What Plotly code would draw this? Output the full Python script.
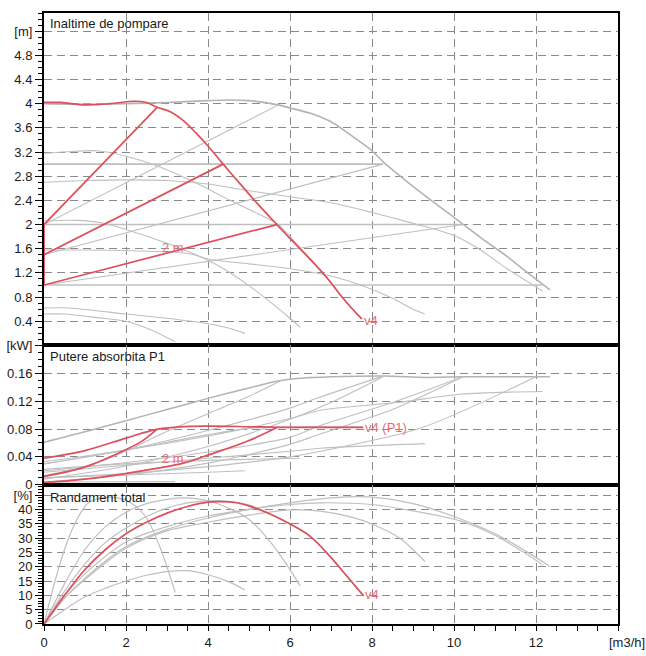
import plotly.graph_objects as go

# ---------------- data ----------------
# Flow values [m3/h] and pump head [m] - top panel
Q_a = [0, 1, 2, 3, 4, 4.5, 5, 5.7, 6, 6.5, 7, 7.5, 8, 8.3, 8.6, 9, 9.5, 10, 10.23, 10.7, 11.3, 11.8, 12.34]
H_a = [4.0, 3.99, 4.0, 4.02, 4.05, 4.06, 4.05, 3.98, 3.93, 3.84, 3.70, 3.47, 3.22, 3.02, 2.85, 2.63, 2.37, 2.12, 2.0, 1.76, 1.47, 1.2, 0.92]
Q_b = [0, 0.7, 1.3, 2, 2.8, 3.7, 4.4, 5.03, 5.72, 6.2, 6.57, 6.98, 7.27, 7.5, 7.75]
H_b = [3.18, 3.21, 3.22, 3.13, 2.96, 2.69, 2.45, 2.24, 2.0, 1.65, 1.38, 1.06, 0.79, 0.62, 0.44]
Q_c = [0, 1, 2, 3, 4, 5, 6, 7, 8, 9, 10, 10.6, 11.3, 12.16]
H_c = [2.70, 2.73, 2.74, 2.73, 2.67, 2.56, 2.46, 2.36, 2.2, 2.02, 1.82, 1.6, 1.27, 0.90]
Q_d = [0, 0.8, 1.4, 2, 3, 4, 4.5, 5, 5.5, 6, 6.25]
H_d = [2.06, 2.07, 2.03, 1.92, 1.69, 1.41, 1.22, 0.99, 0.73, 0.45, 0.30]
Q_e = [0, 1, 2, 3, 3.6, 4, 5, 6, 7, 7.8, 8.5, 9.0, 9.29]
H_e = [1.58, 1.58, 1.57, 1.55, 1.51, 1.43, 1.35, 1.27, 1.15, 0.98, 0.78, 0.6, 0.52]
Q_f = [0, 0.6, 2, 3, 4, 4.5, 4.9]
H_f = [0.62, 0.62, 0.52, 0.45, 0.36, 0.29, 0.20]
Q_g = [0, 0.5, 1.3, 2, 2.6, 3.2]
H_g = [0.52, 0.52, 0.46, 0.40, 0.26, 0.06]
# gray control lines (proportional / constant)
Q_prop_gray = [[0, 5.72], [0, 8.27], [0, 10.22]]
H_prop_gray = [[2.0, 3.98], [1.5, 3.0], [1.0, 2.0]]
Q_const_gray = [[0, 8.27], [0, 10.22], [0, 12.15]]
H_const_gray = [[3.0, 3.0], [2.0, 2.0], [1.0, 1.0]]
# red pump: v4 curve and control lines
Q_v4 = [0, 0.4, 1.0, 1.6, 2.2, 2.5, 2.76, 3.1, 3.4, 3.7, 4.0, 4.37, 4.8, 5.2, 5.68, 6.1, 6.5, 6.9, 7.2, 7.5, 7.75]
H_v4 = [4.02, 4.02, 3.98, 4.0, 4.04, 4.02, 3.94, 3.86, 3.72, 3.52, 3.30, 3.0, 2.66, 2.35, 2.0, 1.70, 1.42, 1.12, 0.86, 0.62, 0.44]
Q_prop_red = [[0, 2.76], [0, 4.37], [0, 5.68], [0, 0]]
H_prop_red = [[2.0, 3.94], [1.5, 3.0], [1.0, 2.0], [1.0, 2.0]]

# Power P1 [kW] - middle panel
QP_v4 = [0, 1, 2, 2.75, 3.3, 3.97, 5, 5.68, 7.79]
P_v4 = [0.038, 0.049, 0.067, 0.0795, 0.083, 0.0842, 0.0833, 0.0825, 0.0825]
QP_l1 = [0, 0.97, 1.98, 2.4, 2.75]
P_l1 = [0.012, 0.025, 0.050, 0.063, 0.0795]
QP_l3 = [0, 1, 1.98, 3.4, 3.97, 4.94, 5.68]
P_l3 = [0.003, 0.008, 0.016, 0.031, 0.042, 0.062, 0.0823]
QP_gray = [
    [0, 1, 2, 3, 4, 5, 5.7, 6.5, 7, 8.3, 9.3, 10.2, 11, 12.34],
    [0, 1, 2, 2.75, 4, 5, 5.8],
    [0, 2, 4, 6, 6.74, 8.27],
    [0, 2, 4, 6, 7, 8.27],
    [0, 2, 4, 6, 6.74, 8.5, 10.22],
    [0, 2, 4, 6, 6.74, 8.5, 10.22],
    [0, 2, 4, 6, 6.74, 9.17, 12.0],
    [0, 2, 4, 6, 6.74, 8.61, 10.15, 12.16],
    [0, 2, 4, 6, 6.74, 9.29],
    [0, 2, 4, 6.24],
    [0, 2, 4, 4.9],
    [0, 3.2],
    [0, 2, 4, 5, 5.72, 7.75],
]
P_gray = [
    [0.061, 0.076, 0.092, 0.108, 0.124, 0.139, 0.149, 0.154, 0.155, 0.156, 0.154, 0.155, 0.155, 0.155],
    [0.013, 0.026, 0.048, 0.070, 0.102, 0.127, 0.150],
    [0.030, 0.050, 0.078, 0.110, 0.126, 0.156],
    [0.008, 0.027, 0.055, 0.094, 0.118, 0.155],
    [0.020, 0.032, 0.047, 0.068, 0.085, 0.118, 0.155],
    [0.004, 0.014, 0.031, 0.058, 0.073, 0.108, 0.155],
    [0.010, 0.016, 0.026, 0.040, 0.048, 0.081, 0.155],
    [0.033, 0.050, 0.070, 0.095, 0.107, 0.118, 0.130, 0.134],
    [0.018, 0.028, 0.038, 0.048, 0.0525, 0.059],
    [0.022, 0.030, 0.035, 0.038],
    [0.010, 0.014, 0.018, 0.020],
    [0.004, 0.0045],
    [0.030, 0.050, 0.072, 0.081, 0.083, 0.083],
]

# Total efficiency [%] - bottom panel
QE_v4 = [0, 0.25, 0.5, 1, 1.5, 2, 2.5, 3, 3.5, 4, 4.3, 4.7, 5, 5.5, 6, 6.5, 6.98, 7.4, 7.79]
E_v4 = [0, 5, 10, 19, 26, 31.5, 35.5, 38.7, 41, 42.5, 42.7, 42.3, 41.2, 38.5, 34.9, 30.5, 23.5, 16.5, 9.9]
QE_gray = [
    [0, 0.5, 1, 2, 3, 4, 5, 6, 7, 8, 9, 10, 11, 11.8, 12.34],
    [0, 0.5, 1, 1.5, 2, 2.5, 3, 3.5, 4, 4.5, 5, 5.5, 6, 6.5, 6.98, 7.4, 7.75],
    [0, 0.5, 1, 2, 3, 4, 5, 6, 6.74, 8, 9, 10.15, 11, 11.7, 12.16],
    [0, 0.5, 1, 1.5, 2, 2.5, 3, 3.5, 4, 4.5, 5, 5.5, 6, 6.25],
    [0, 0.5, 1, 2, 3, 4, 5, 6, 6.74, 7.5, 8, 8.69, 9.29],
    [0, 0.5, 1, 1.5, 2, 2.5, 3, 3.5, 4, 4.5, 4.9],
    [0, 0.25, 0.5, 0.75, 1.06, 1.4, 1.8, 2.2, 2.5, 2.84, 3.2],
]
E_gray = [
    [0, 9, 16, 27, 33, 37, 40, 42.3, 44, 44.3, 42, 37.5, 31.5, 25, 20.1],
    [0, 11.5, 21, 28.5, 33.5, 37.5, 40.5, 42.3, 43, 42.8, 41.5, 38.5, 35, 30.5, 23.5, 16.5, 10.5],
    [0, 10, 17.5, 28.6, 34, 37.7, 40, 41.7, 42.3, 41.7, 39.5, 36, 31, 25, 20.7],
    [0, 14, 26, 34, 39, 42, 43.5, 44, 43, 40.5, 36.5, 29, 19, 13.3],
    [0, 9, 15.5, 26.4, 32.5, 35.5, 38, 39.8, 39.4, 37.3, 34.9, 29.8, 21.8],
    [0, 5, 9.5, 12.5, 15, 17, 18.3, 18.6, 17.2, 14.8, 11.9],
    [0, 14, 26, 35, 42, 44, 44, 41.5, 37, 26.4, 11],
]

x_ticks = [0, 2, 4, 6, 8, 10, 12, 14]
x_ticktext = ["0", "2", "4", "6", "8", "10", "12", ""]
h_ticks = [0.4, 0.8, 1.2, 1.6, 2, 2.4, 2.8, 3.2, 3.6, 4, 4.4, 4.8, 5.2]
h_ticktext = ["0.4", "0.8", "1.2", "1.6", "2", "2.4", "2.8", "3.2", "3.6", "4", "4.4", "4.8", "[m]"]
p_ticks = [0, 0.04, 0.08, 0.12, 0.16, 0.2]
p_ticktext = ["0", "0.04", "0.08", "0.12", "0.16", "[kW]"]
e_ticks = [0, 5, 10, 15, 20, 25, 30, 35, 40, 45]
e_ticktext = ["0", "5", "10", "15", "20", "25", "30", "35", "40", "[%]"]

# ---------------- figure ----------------
RED = "#de4f5b"
RED_TXT = "#e66c75"
GRAY = "#bfbfbf"
GRID = "#8a8a8a"
FONT = "Liberation Sans, Arial, Helvetica, sans-serif"

fig = go.Figure()


def line(x, y, ax, color, width, shape="linear", smoothing=0.8):
    xa = {"1": "x", "2": "x2", "3": "x3"}[ax]
    ya = {"1": "y", "2": "y2", "3": "y3"}[ax]
    fig.add_trace(go.Scatter(
        x=x, y=y, xaxis=xa, yaxis=ya, mode="lines",
        line=dict(color=color, width=width, shape=shape, smoothing=smoothing),
        hoverinfo="skip", showlegend=False))


# top panel: gray first
line(Q_a, H_a, "1", "#b3b3b3", 1.6, "spline")
for q, h in [(Q_b, H_b), (Q_c, H_c), (Q_d, H_d), (Q_e, H_e), (Q_f, H_f), (Q_g, H_g)]:
    line(q, h, "1", GRAY, 1.1, "spline")
for q, h in zip(Q_prop_gray, H_prop_gray):
    line(q, h, "1", GRAY, 1.1)
for q, h in zip(Q_const_gray, H_const_gray):
    line(q, h, "1", GRAY, 1.6)
line(Q_v4, H_v4, "1", RED, 1.7, "spline", 1.0)
for q, h in zip(Q_prop_red, H_prop_red):
    line(q, h, "1", RED, 1.7)

# middle panel
for i, (q, p) in enumerate(zip(QP_gray, P_gray)):
    line(q, p, "2", "#b3b3b3" if i == 0 else GRAY, 1.5 if i == 0 else 1.1, "spline")
line(QP_v4, P_v4, "2", RED, 1.7, "spline", 1.0)
line(QP_l1, P_l1, "2", RED, 1.7, "spline", 1.0)
line(QP_l3, P_l3, "2", RED, 1.7, "spline", 1.0)

# bottom panel
for i, (q, e) in enumerate(zip(QE_gray, E_gray)):
    line(q, e, "3", GRAY, 1.2, "spline")
line(QE_v4, E_v4, "3", RED, 1.7, "spline", 1.0)

axis_common = dict(showline=True, mirror=True, linecolor="black", linewidth=2,
                   zeroline=False, gridcolor=GRID, griddash="8px,5px", gridwidth=1)

H_PLOT = 623.0
d_mid_top = (629 - 345) / H_PLOT
d_bot_top = (629 - 487) / H_PLOT

xa_common = dict(range=[0, 14], tickvals=[2, 4, 6, 8, 10, 12], showticklabels=False,
                 ticks="", **axis_common)

tickfont = dict(family=FONT, size=13, color="#1a1a1a")

fig.update_layout(
    width=646, height=656, autosize=False,
    margin=dict(l=43, r=28, t=6, b=27),
    paper_bgcolor="white", plot_bgcolor="white",
    font=dict(family=FONT, size=13, color="#1a1a1a"),
    xaxis=dict(anchor="y", matches="x3", **xa_common),
    xaxis2=dict(anchor="y2", matches="x3", **xa_common),
    xaxis3=dict(anchor="y3", range=[0, 14], tickmode="array", tickvals=x_ticks, ticktext=x_ticktext,
                ticks="outside", ticklen=5, tickcolor="black", tickwidth=1, tickfont=tickfont,
                minor=dict(dtick=0.5, tick0=0, ticks="outside", ticklen=5, tickcolor="black",
                           tickwidth=1, showgrid=False),
                **axis_common),
    yaxis=dict(domain=[d_mid_top, 1], anchor="x", range=[0, 5.5], tickmode="array",
               tickvals=h_ticks, ticktext=h_ticktext, ticks="outside", ticklen=7,
               tickcolor="black", tickfont=tickfont,
               minor=dict(dtick=0.1, tick0=0, ticks="outside", ticklen=4, tickcolor="black",
                          showgrid=False),
               **axis_common),
    yaxis2=dict(domain=[d_bot_top, d_mid_top], anchor="x2", range=[0, 0.2], tickmode="array",
                tickvals=p_ticks, ticktext=p_ticktext, ticks="outside", ticklen=7,
                tickcolor="black", tickfont=tickfont,
                minor=dict(dtick=0.01, tick0=0, ticks="outside", ticklen=4, tickcolor="black",
                           showgrid=False),
                **axis_common),
    yaxis3=dict(domain=[0, d_bot_top], anchor="x3", range=[0, 48.6], tickmode="array",
                tickvals=e_ticks, ticktext=e_ticktext, ticks="outside", ticklen=7,
                tickcolor="black", tickfont=tickfont,
                minor=dict(dtick=1, tick0=0, ticks="outside", ticklen=4, tickcolor="black",
                           showgrid=False),
                **axis_common),
)

ann = []
ann.append(dict(text="Inaltime de pompare", xref="x domain", yref="y domain", x=0.007, y=0.967,
                xanchor="left", yanchor="middle", showarrow=False, font=dict(size=13, color="#1a1a1a")))
ann.append(dict(text="Putere absorbita P1", xref="x2 domain", yref="y2 domain", x=0.007, y=0.918,
                xanchor="left", yanchor="middle", showarrow=False, font=dict(size=13, color="#1a1a1a")))
ann.append(dict(text="Randament total", xref="x3 domain", yref="y3 domain", x=0.007, y=0.908,
                xanchor="left", yanchor="middle", showarrow=False, font=dict(size=13, color="#1a1a1a")))
ann.append(dict(text="2 m", xref="x", yref="y", x=3.14, y=1.62, showarrow=False,
                xanchor="center", yanchor="middle", font=dict(size=13, color=RED_TXT)))
ann.append(dict(text="v4", xref="x", yref="y", x=Q_v4[-1], y=H_v4[-1] - 0.03, showarrow=False,
                xanchor="left", yanchor="middle", font=dict(size=13, color=RED_TXT)))
ann.append(dict(text="v4 (P1)", xref="x2", yref="y2", x=QP_v4[-1], y=P_v4[-1], showarrow=False,
                xanchor="left", yanchor="middle", font=dict(size=13, color=RED_TXT)))
ann.append(dict(text="2 m", xref="x2", yref="y2", x=3.14, y=0.038, showarrow=False,
                xanchor="center", yanchor="middle", font=dict(size=13, color=RED_TXT)))
ann.append(dict(text="v4", xref="x3", yref="y3", x=QE_v4[-1], y=E_v4[-1] + 0.5, showarrow=False,
                xanchor="left", yanchor="middle", font=dict(size=13, color=RED_TXT)))
ann.append(dict(text="[m3/h]", xref="x3", yref="y3", x=14, y=0, showarrow=False,
                xanchor="center", yanchor="top", xshift=9, yshift=-9,
                font=dict(size=13, color="#1a1a1a")))
fig.update_layout(annotations=ann)

fig.write_html("out.html", config={"displayModeBar": False},
               post_script="document.body.style.margin='0px';document.body.style.padding='0px';")
